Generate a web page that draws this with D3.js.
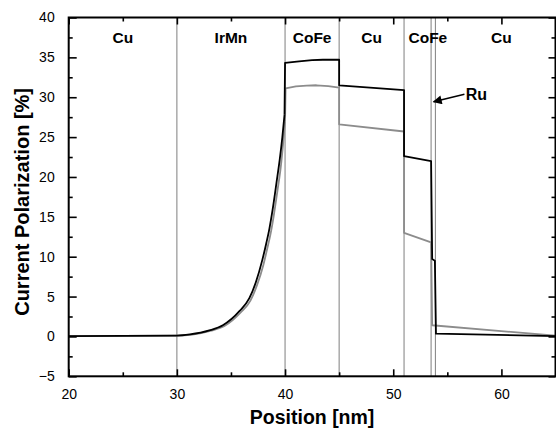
<!DOCTYPE html>
<html>
<head>
<meta charset="utf-8">
<script src="https://cdn.jsdelivr.net/npm/d3@7"></script>
<style>
  html, body { margin: 0; padding: 0; background: #fff; }
  svg { display: block; }
  text { font-family: "Liberation Sans", Arial, Helvetica, sans-serif; }
</style>
</head>
<body>
<svg id="chart" width="556" height="429"></svg>
<script>
// ---- data ----
// smooth rising part (Cu / IrMn region up to the CoFe interface)
const blackRiseX = [20, 30, 31.2, 33, 34.25, 35.8, 36.7, 37.3, 37.9, 38.25, 38.55, 38.85, 39.2, 39.5, 39.75, 39.95];
const blackRiseY = [0.05, 0.1, 0.25, 0.75, 1.4, 3.2, 4.8, 6.8, 9.6, 11.6, 13.5, 15.9, 19.2, 22.1, 25.0, 27.8];
// piecewise part (from the CoFe interface on)
const blackStepX = [39.95, 40, 41.3, 42.5, 43.5, 44.5, 45, 45, 51, 51, 53.5, 53.6, 53.85, 53.95, 65];
const blackStepY = [27.8, 34.3, 34.5, 34.65, 34.7, 34.7, 34.7, 31.5, 30.9, 22.6, 22.0, 9.7, 9.5, 0.35, 0.05];

const grayRiseX = [20, 30, 31.3, 33.1, 34.4, 35.9, 36.8, 37.4, 38.0, 38.35, 38.65, 38.95, 39.3, 39.6, 39.85, 40];
const grayRiseY = [0.05, 0.1, 0.2, 0.7, 1.3, 3.0, 4.5, 6.4, 9.0, 11.0, 12.8, 15.1, 18.3, 21.2, 24.6, 27.0];
const grayStepX = [40, 40.05, 41, 42, 42.9, 44, 45, 45, 51, 51, 53.5, 53.6, 65];
const grayStepY = [27.0, 31.1, 31.35, 31.45, 31.5, 31.4, 31.2, 26.6, 25.7, 13.0, 11.8, 1.4, 0.1];

const interfaces = [30, 40, 45, 51, 53.5, 53.9];
const layerNames = ["Cu", "IrMn", "CoFe", "Cu", "CoFe", "Cu"];
const layerCenters = [25, 35, 42.5, 48, 53.2, 60];

const xMajorTicks = [20, 30, 40, 50, 60];
const xMinorTicks = [25, 35, 45, 55];
const yMajorTicks = [-5, 0, 5, 10, 15, 20, 25, 30, 35, 40];
const yMinorTicks = [-2.5, 2.5, 7.5, 12.5, 17.5, 22.5, 27.5, 32.5, 37.5];

const xTitle = "Position [nm]";
const yTitle = "Current Polarization [%]";

// ---- layout ----
const L = 68.7, R = 555.5, T = 17.5, B = 376.3;
const svg = d3.select("#chart");
const x = d3.scaleLinear().domain([20, 65]).range([L, R]);
const y = d3.scaleLinear().domain([-5, 40]).range([B, T]);

// interface lines
svg.append("g").selectAll("line").data(interfaces).join("line")
  .attr("x1", d => x(d)).attr("x2", d => x(d))
  .attr("y1", T).attr("y2", B)
  .attr("stroke", "#8a8a8a").attr("stroke-width", 1.1);

// curves
const smooth = d3.line().x(d => x(d[0])).y(d => y(d[1])).curve(d3.curveMonotoneX);
const lin = d3.line().x(d => x(d[0])).y(d => y(d[1]));
const zip = (a, b) => a.map((v, i) => [v, b[i]]);

function drawSeries(rx, ry, sx, sy, color) {
  svg.append("path").datum(zip(rx, ry)).attr("d", smooth).attr("fill", "none")
    .attr("stroke", color).attr("stroke-width", 1.8).attr("stroke-linejoin", "round");
  svg.append("path").datum(zip(sx, sy)).attr("d", lin).attr("fill", "none")
    .attr("stroke", color).attr("stroke-width", 1.8).attr("stroke-linejoin", "round");
}
drawSeries(grayRiseX, grayRiseY, grayStepX, grayStepY, "#8c8c8c");
drawSeries(blackRiseX, blackRiseY, blackStepX, blackStepY, "#000");

// axes
function styleAxis(g) {
  g.select(".domain").remove();
  g.selectAll(".tick line").attr("stroke", "#000").attr("stroke-width", 1.6);
  g.selectAll(".tick text").attr("font-size", 14).attr("fill", "#000");
}
// bottom
svg.append("g").attr("transform", `translate(0,${B})`)
  .call(d3.axisBottom(x).tickValues(xMajorTicks).tickSizeInner(-7).tickSizeOuter(0).tickPadding(13))
  .call(styleAxis);
svg.append("g").attr("transform", `translate(0,${B})`)
  .call(d3.axisBottom(x).tickValues(xMinorTicks).tickSizeInner(-4).tickSizeOuter(0).tickFormat(""))
  .call(styleAxis);
// top
svg.append("g").attr("transform", `translate(0,${T})`)
  .call(d3.axisTop(x).tickValues(xMajorTicks).tickSizeInner(-7).tickSizeOuter(0).tickFormat(""))
  .call(styleAxis);
svg.append("g").attr("transform", `translate(0,${T})`)
  .call(d3.axisTop(x).tickValues(xMinorTicks).tickSizeInner(-4).tickSizeOuter(0).tickFormat(""))
  .call(styleAxis);
// left
svg.append("g").attr("transform", `translate(${L},0)`)
  .call(d3.axisLeft(y).tickValues(yMajorTicks).tickSizeInner(-8).tickSizeOuter(0).tickPadding(14))
  .call(styleAxis);
svg.append("g").attr("transform", `translate(${L},0)`)
  .call(d3.axisLeft(y).tickValues(yMinorTicks).tickSizeInner(-4).tickSizeOuter(0).tickFormat(""))
  .call(styleAxis);
// right
svg.append("g").attr("transform", `translate(${R},0)`)
  .call(d3.axisRight(y).tickValues(yMajorTicks).tickSizeInner(-7).tickSizeOuter(0).tickFormat(""))
  .call(styleAxis);
svg.append("g").attr("transform", `translate(${R},0)`)
  .call(d3.axisRight(y).tickValues(yMinorTicks).tickSizeInner(-4).tickSizeOuter(0).tickFormat(""))
  .call(styleAxis);

// frame
svg.append("rect").attr("x", L).attr("y", T).attr("width", R - L).attr("height", B - T)
  .attr("fill", "none").attr("stroke", "#000").attr("stroke-width", 2);

// layer labels
svg.append("g").selectAll("text").data(layerNames).join("text")
  .attr("x", (d, i) => x(layerCenters[i])).attr("y", 43)
  .attr("text-anchor", "middle").attr("font-size", 15.5).attr("font-weight", "bold")
  .text(d => d);

// Ru annotation
svg.append("defs").append("marker").attr("id", "ah")
  .attr("viewBox", "0 0 10 10").attr("refX", 9).attr("refY", 5)
  .attr("markerWidth", 7).attr("markerHeight", 6).attr("orient", "auto")
  .append("path").attr("d", "M0,0 L10,5 L0,10 z").attr("fill", "#000");
svg.append("line")
  .attr("x1", x(56.58)).attr("y1", y(30.37))
  .attr("x2", x(53.73)).attr("y2", y(29.44))
  .attr("stroke", "#000").attr("stroke-width", 1.5).attr("marker-end", "url(#ah)");
svg.append("text").attr("x", x(56.7)).attr("y", y(29.6))
  .attr("font-size", 16).attr("font-weight", "bold").text("Ru");

// axis titles
svg.append("text").attr("x", (L + R) / 2).attr("y", 424)
  .attr("text-anchor", "middle").attr("font-size", 19.5).attr("font-weight", "bold")
  .text(xTitle);
svg.append("text").attr("transform", `translate(29,${(T + B) / 2 + 5}) rotate(-90)`)
  .attr("text-anchor", "middle").attr("font-size", 20).attr("font-weight", "bold")
  .text(yTitle);
</script>
</body>
</html>
